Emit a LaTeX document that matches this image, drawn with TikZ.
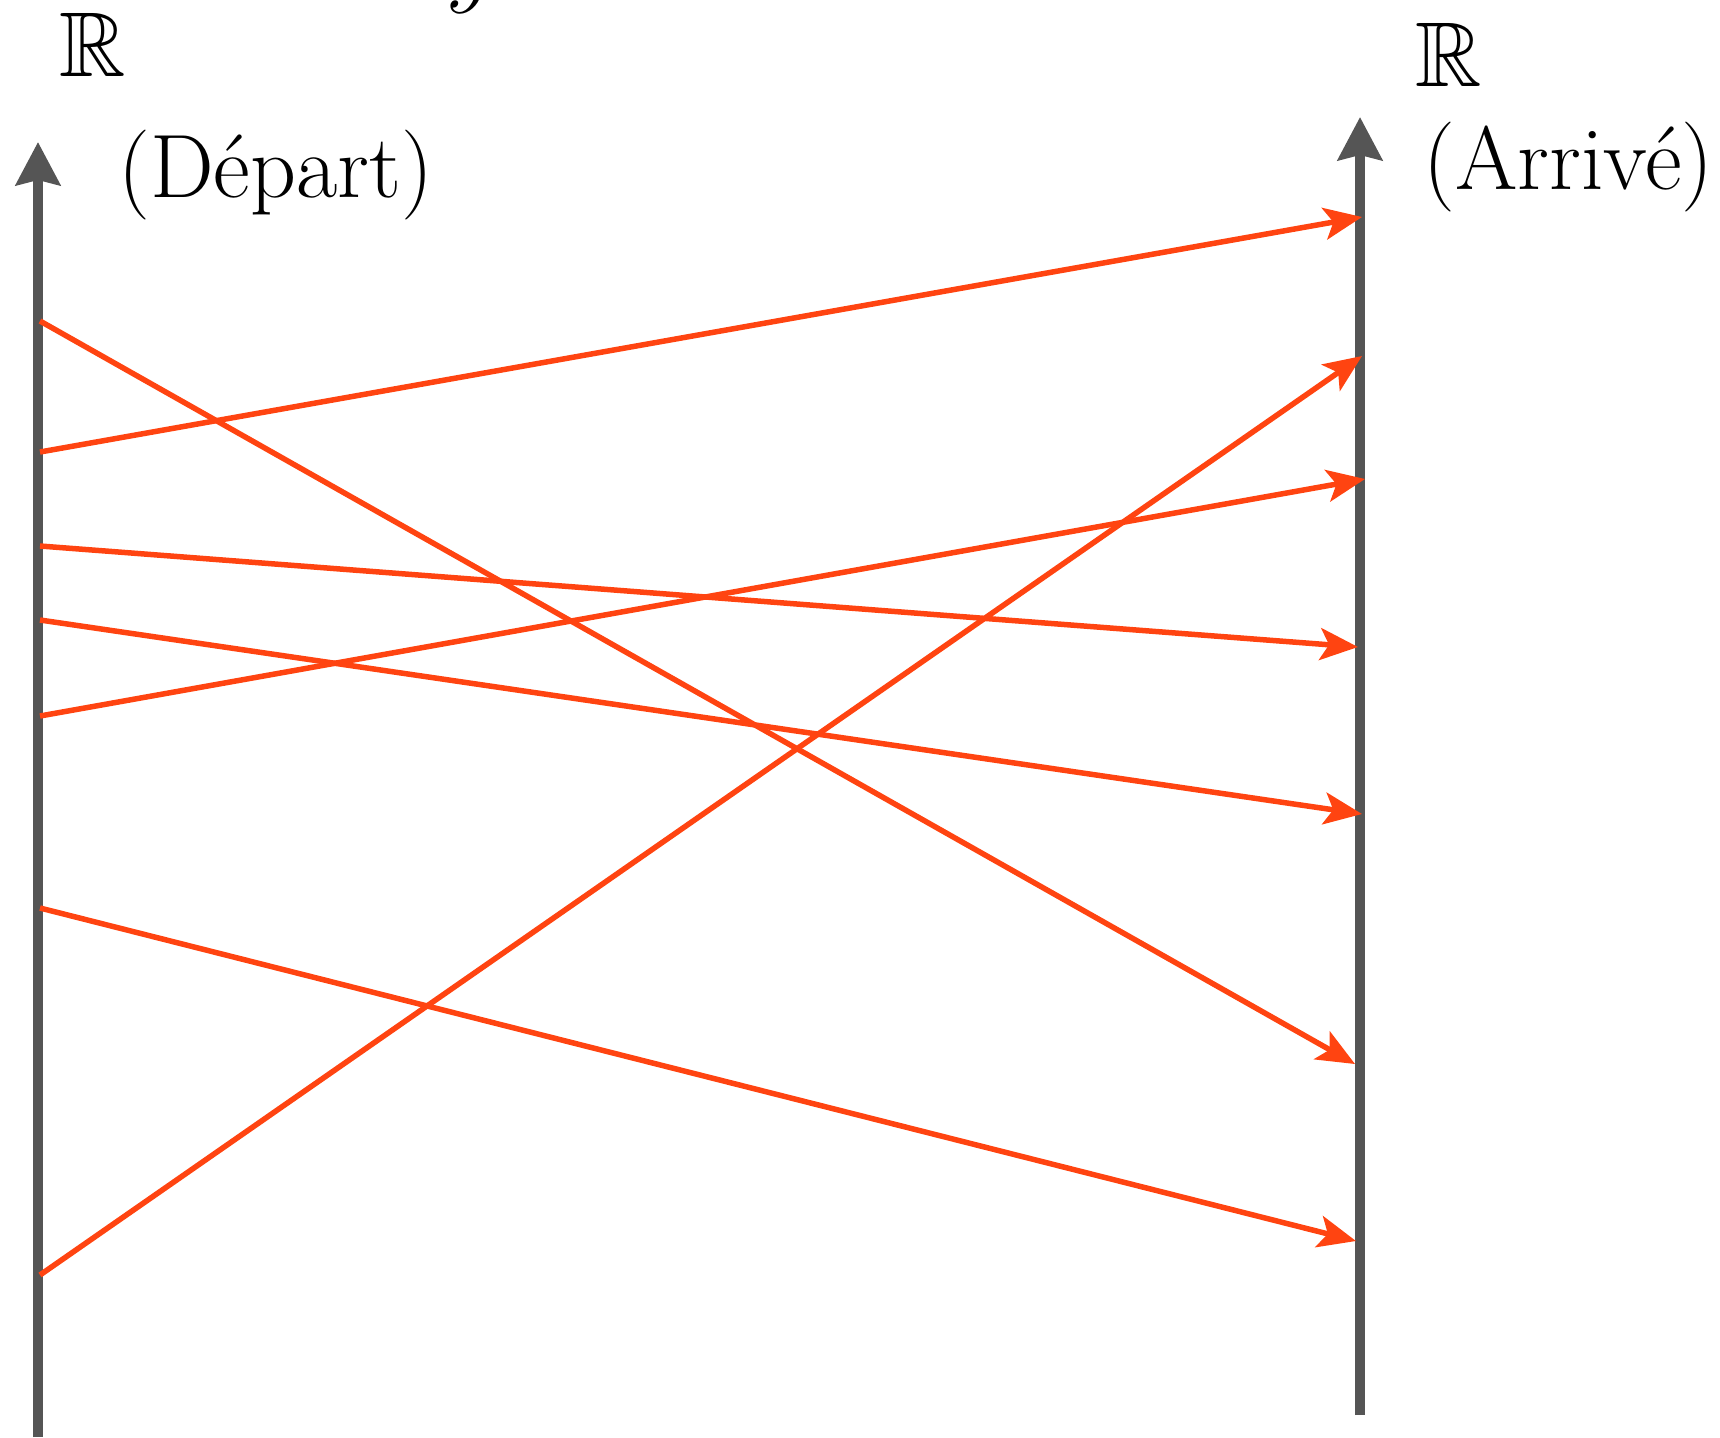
\RequirePackage{fix-cm}
\documentclass[tikz,border=0pt]{standalone}
\usepackage{amssymb}
\usepackage{fontspec}
\usetikzlibrary{arrows.meta}
\definecolor{axisgray}{HTML}{555555}
\definecolor{maporange}{RGB}{255,68,17}
\tikzset{
  axisline/.style={draw=axisgray, line width=10pt, -{Stealth[length=43pt,width=44pt,inset=5pt]}},
  mapline/.style={draw=maporange, line width=5.5pt, -{Stealth[length=38pt,width=32pt,inset=9pt]}},
  bigtext/.style={inner sep=0pt, anchor=base west, font=\fontsize{90}{96}\selectfont},
  bigset/.style={inner sep=0pt, anchor=base west, font=\fontsize{92}{98}\selectfont},
}
\begin{document}
\begin{tikzpicture}[x=1pt,y=-1pt]
\useasboundingbox (0,0) rectangle (1720,1437);
% axes
\coordinate (Lbot) at (38,1437);
\coordinate (Ltop) at (38,142);
\coordinate (Rbot) at (1360,1415);
\coordinate (Rtop) at (1360,117);
\draw[axisline] (Lbot) -- (Ltop);
\draw[axisline] (Rbot) -- (Rtop);
% labels
\node[bigset] (RL) at (59,76) {$\mathbb{R}$};
\node[bigtext] (dep) at (118,197) {(Départ)};
\node[bigset] (RR) at (1415,86) {$\mathbb{R}$};
\node[bigtext] (arr) at (1423,189) {(Arrivé)};
\node[bigset] (yy) at (446,-4) {$y$};
% start points
\coordinate (s1) at (40,321);
\coordinate (s2) at (40,452);
\coordinate (s3) at (40,546);
\coordinate (s4) at (40,620);
\coordinate (s5) at (40,716);
\coordinate (s6) at (40,908);
\coordinate (s7) at (40,1275);
% end points
\coordinate (e1) at (1355,1064);
\coordinate (e2) at (1362,217);
\coordinate (e3) at (1358,647);
\coordinate (e4) at (1362,814);
\coordinate (e5) at (1365,479);
\coordinate (e6) at (1356,1241);
\coordinate (e7) at (1362,356);
\draw[mapline] (s1) -- (e1);
\draw[mapline] (s2) -- (e2);
\draw[mapline] (s3) -- (e3);
\draw[mapline] (s4) -- (e4);
\draw[mapline] (s5) -- (e5);
\draw[mapline] (s6) -- (e6);
\draw[mapline] (s7) -- (e7);
\end{tikzpicture}
\end{document}
